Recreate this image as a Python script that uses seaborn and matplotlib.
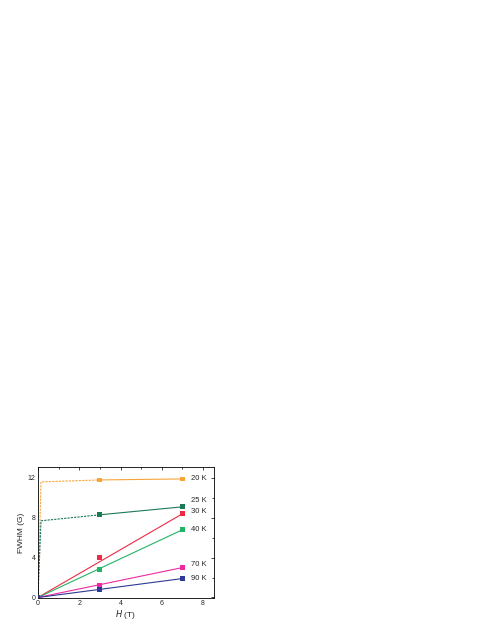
import numpy as np
import pandas as pd
import matplotlib
matplotlib.use("Agg")
import matplotlib.pyplot as plt
import seaborn as sns
from matplotlib.ticker import MultipleLocator

# field points (T) and measured FWHM (G)
field = [0, 3, 7]
temps = ["20 K", "25 K", "30 K", "40 K", "70 K", "90 K"]
fwhm_20 = [0, 11.8, 11.9]
fwhm_25 = [0, 8.3, 9.1]
fwhm_30 = [0, 4.0, 8.4]
fwhm_40 = [0, 2.8, 6.8]
fwhm_70 = [0, 1.2, 3.0]
fwhm_90 = [0, 0.8, 1.9]

# dashed guides for the low-field jump (20 K and 25 K)
guide_x = [0, 0.15, 3]
guide_20 = [0, 11.6, 11.8]
guide_25 = [0, 7.7, 8.3]

# linear guides through the origin
fit_x = [0, 7]
fit_30 = [0, 8.4]
fit_40 = [0, 6.8]
fit_70 = [0, 3.0]
fit_90 = [0, 1.9]

colors = {"20 K": "#f7a53a", "25 K": "#1c7a55", "30 K": "#ee2a45",
          "40 K": "#22b365", "70 K": "#ee2aa0", "90 K": "#2d3a94"}

sns.set_style("white")
plt.rcParams['font.family'] = ['Liberation Sans', 'DejaVu Sans']

fig = plt.figure(figsize=(4.91, 6.35), dpi=100)
ax = fig.add_axes([0.0764, 0.0583, 0.3595, 0.2063])

pts = pd.DataFrame({
    "H": field * 6,
    "FWHM": fwhm_20 + fwhm_25 + fwhm_30 + fwhm_40 + fwhm_70 + fwhm_90,
    "T": [t for t in temps for _ in field],
})

# solid segments (20 K, 25 K between 3 and 7 T)
for t, ys in [("20 K", fwhm_20), ("25 K", fwhm_25)]:
    sns.lineplot(x=field[1:], y=ys[1:], color=colors[t], lw=0.8, ax=ax)
    sns.lineplot(x=guide_x, y=[g for g in (guide_20 if t == "20 K" else guide_25)],
                 color=colors[t], lw=0.8, ls=(0, (2, 1)), ax=ax)

for t, ys in [("30 K", fit_30), ("40 K", fit_40), ("70 K", fit_70), ("90 K", fit_90)]:
    sns.lineplot(x=fit_x, y=ys, color=colors[t], lw=0.8, ax=ax)

sns.scatterplot(data=pts, x="H", y="FWHM", hue="T", palette=colors,
                marker="s", s=12, linewidth=0, legend=False, ax=ax, zorder=5)

# labels at the right
label_y = [11.9, 9.1, 8.3, 6.8, 3.0, 1.9]
label_y_off = [0, 0.6, 0.3, 0, 0.3, 0]
for t, y, dy in zip(temps, label_y, label_y_off):
    ax.text(7.4, y + dy, t, fontsize=5.5, va="center", ha="left")

ax.set_xlim(-0.02, 8.53)
ax.set_ylim(-0.05, 13.1)
ax.xaxis.set_major_locator(MultipleLocator(2))
ax.xaxis.set_minor_locator(MultipleLocator(1))
ax.yaxis.set_major_locator(MultipleLocator(4))
ax.yaxis.set_minor_locator(MultipleLocator(2))
ax.tick_params(which="both", direction="in", top=True, right=True,
               labelsize=5, pad=1.5, width=0.6)
ax.tick_params(which="major", length=2.5)
ax.tick_params(which="minor", length=1.5)
for sp in ax.spines.values():
    sp.set_linewidth(0.6)
    sp.set_color("black")

ax.set_xlabel("$\\it{H}$ (T)", fontsize=6, labelpad=1)
ax.set_ylabel("FWHM (G)", fontsize=6, labelpad=2)

fig.savefig("out.png", dpi=100, facecolor="white")
